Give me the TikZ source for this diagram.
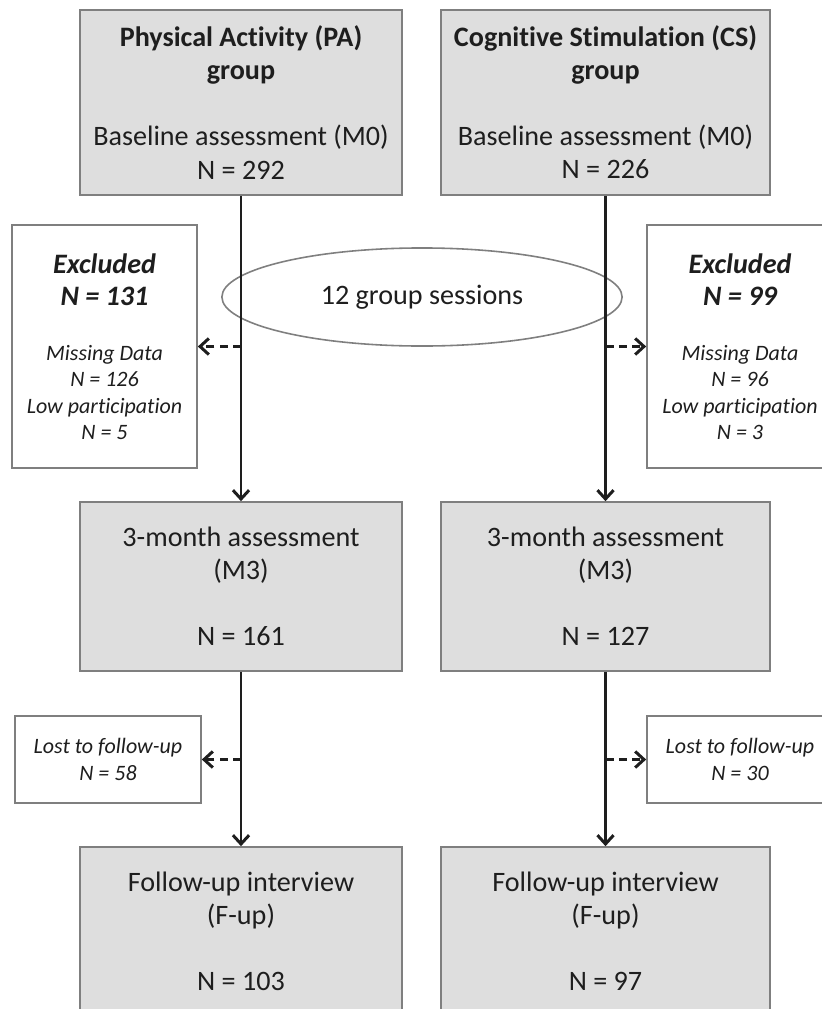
\documentclass[tikz,border=0pt]{standalone}
\usepackage{fontspec}
\setmainfont{Carlito}[Ligatures=NoCommon]
\usetikzlibrary{arrows.meta,shapes.geometric}
\definecolor{boxgray}{HTML}{DEDEDE}
\definecolor{edgegray}{HTML}{7F7F7F}
\definecolor{inkgray}{HTML}{1E1E1E}
\tikzset{
  stage/.style={draw=edgegray,fill=boxgray,line width=0.45pt,align=center,inner sep=0pt,text=inkgray,font=\fontsize{8}{9.4}\selectfont},
  dropbox/.style={draw=edgegray,fill=white,line width=0.45pt,align=center,inner sep=0pt,text=inkgray,font=\fontsize{6.25}{7.5}\selectfont\itshape},
  flow/.style={draw=inkgray,line width=0.85pt,-{Straight Barb[length=2.5pt,width=4.6pt]}},
  dropout/.style={flow,dash pattern=on 2.3pt off 1.5pt}
}
\begin{document}
\begin{tikzpicture}[x=0.01cm,y=-0.01cm]
\useasboundingbox (0,0) rectangle (822,1009);
\fill[white] (0,0) rectangle (822,1009);
\clip (0,0) rectangle (822,1009);
\node[stage,minimum width=3.22cm,minimum height=1.85cm] (pa-m0) at (241,102.5) {\textbf{Physical Activity (PA)}\\\textbf{group}\\[9.4pt]Baseline assessment (M0)\\N = 292};
\node[stage,minimum width=3.29cm,minimum height=1.85cm] (cs-m0) at (605.5,102.5) {\textbf{Cognitive Stimulation (CS)}\\\textbf{group}\\[9.4pt]Baseline assessment (M0)\\N = 226};
\node[stage,minimum width=3.22cm,minimum height=1.69cm] (pa-m3) at (241,586.5) {3-month assessment\\(M3)\\[9.4pt]N = 161};
\node[stage,minimum width=3.29cm,minimum height=1.69cm] (cs-m3) at (605.5,586.5) {3-month assessment\\(M3)\\[9.4pt]N = 127};
\node[stage,minimum width=3.22cm,minimum height=1.69cm] (pa-fu) at (241,931.5) {Follow-up interview\\(F-up)\\[9.4pt]N = 103};
\node[stage,minimum width=3.29cm,minimum height=1.69cm] (cs-fu) at (605.5,931.5) {Follow-up interview\\(F-up)\\[9.4pt]N = 97};
\node[draw=edgegray,line width=0.45pt,ellipse,minimum width=4cm,minimum height=0.98cm,inner sep=0pt,text=inkgray,font=\fontsize{8}{9.4}\selectfont] (sessions) at (422,297) {12 group sessions};
\node[dropbox,minimum width=1.85cm,minimum height=2.43cm] (pa-excl) at (104.5,346.5) {{\fontsize{8}{9.1}\selectfont\bfseries Excluded}\\[1.6pt]{\fontsize{8}{9.1}\selectfont\bfseries N = 131}\\[8.2pt]Missing Data\\N = 126\\Low participation\\N = 5};
\node[dropbox,minimum width=1.86cm,minimum height=2.43cm] (cs-excl) at (740,346.5) {{\fontsize{8}{9.1}\selectfont\bfseries Excluded}\\[1.6pt]{\fontsize{8}{9.1}\selectfont\bfseries N = 99}\\[8.2pt]Missing Data\\N = 96\\Low participation\\N = 3};
\node[dropbox,minimum width=1.86cm,minimum height=0.87cm] (pa-lost) at (108,759.5) {Lost to follow-up\\N = 58};
\node[dropbox,minimum width=1.86cm,minimum height=0.87cm] (cs-lost) at (740,759.5) {Lost to follow-up\\N = 30};
\coordinate (pa-cut1) at (241,346.5);
\coordinate (cs-cut1) at (605.5,346.5);
\coordinate (pa-cut2) at (241,759.5);
\coordinate (cs-cut2) at (605.5,759.5);
\draw[flow] (pa-m0) -- (pa-m3);
\draw[flow] (cs-m0) -- (cs-m3);
\draw[flow] (pa-m3) -- (pa-fu);
\draw[flow] (cs-m3) -- (cs-fu);
\draw[dropout] (pa-cut1) -- (pa-excl);
\draw[dropout] (cs-cut1) -- (cs-excl);
\draw[dropout] (pa-cut2) -- (pa-lost);
\draw[dropout] (cs-cut2) -- (cs-lost);
\end{tikzpicture}
\end{document}
